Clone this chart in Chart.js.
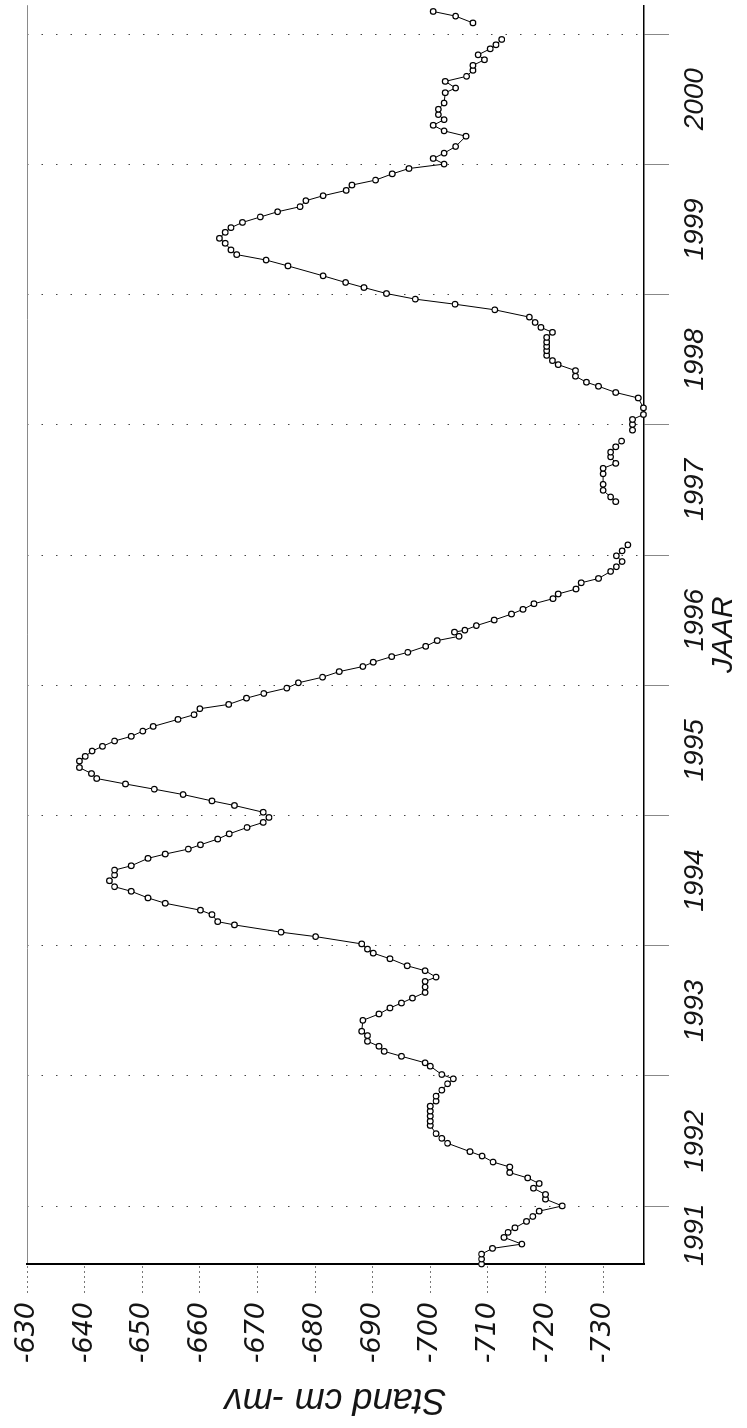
<!DOCTYPE html>
<html>
<head>
<meta charset="utf-8">
<title>Grondwaterstand</title>
<script src="https://cdn.jsdelivr.net/npm/chart.js@4.4.1/dist/chart.umd.min.js"></script>
<style>
  html, body { margin: 0; padding: 0; background: #fff; overflow: hidden; }
  /* chart is laid out landscape and turned a quarter turn onto the portrait page */
  #wrap {
    position: absolute; left: 0; top: 0;
    width: 1428px; height: 747px;
    transform-origin: 0 0;
    transform: translate(0, 1428px) rotate(-90deg);
  }
</style>
</head>
<body>
<div id="wrap"><canvas id="grondwater" width="1428" height="747"></canvas></div>
<script>
// meetmomenten (decimal year); a null level breaks the line
const jaar = [
  1991.556, 1991.594, 1991.632, 1991.676, 1991.709, 1991.760, 1991.799, 1991.834, 1991.883, 1991.921,
  1991.962, 1992.002, 1992.054, 1992.090, 1992.138, 1992.174, 1992.217, 1992.258, 1992.301, 1992.339,
  1992.385, 1992.419, 1992.483, 1992.521, 1992.557, 1992.620, 1992.653, 1992.692, 1992.730, 1992.768,
  1992.807, 1992.845, 1992.891, 1992.940, 1992.978, 1993.011, 1993.075, 1993.101, 1993.151, 1993.189,
  1993.228, 1993.266, 1993.310, 1993.343, 1993.427, 1993.476, 1993.522, 1993.560, 1993.598, 1993.641,
  1993.683, 1993.726, 1993.759, 1993.808, 1993.846, 1993.900, 1993.943, 1993.974, 1994.014, 1994.070,
  1994.104, 1994.160, 1994.185, 1994.239, 1994.273, 1994.326, 1994.367, 1994.418, 1994.453, 1994.499,
  1994.543, 1994.581, 1994.614, 1994.671, 1994.704, 1994.742, 1994.775, 1994.819, 1994.859, 1994.908,
  1994.947, 1994.985, 1995.025, 1995.077, 1995.112, 1995.161, 1995.202, 1995.242, 1995.284, 1995.322,
  1995.368, 1995.418, 1995.454, 1995.495, 1995.531, 1995.572, 1995.608, 1995.648, 1995.684, 1995.738,
  1995.774, 1995.820, 1995.853, 1995.901, 1995.937, 1995.978, 1996.019, 1996.062, 1996.105, 1996.144,
  1996.177, 1996.220, 1996.253, 1996.299, 1996.343, 1996.376, 1996.408, 1996.423, 1996.458, 1996.501,
  1996.547, 1996.583, 1996.626, 1996.665, 1996.701, 1996.739, 1996.787, 1996.820, 1996.874, 1996.910,
  1996.950, 1996.994, 1997.032, 1997.078, 1997.250,
  1997.410, 1997.446, 1997.497, 1997.543, 1997.624, 1997.666, 1997.704, 1997.754, 1997.790, 1997.831,
  1997.875, 1997.917,
  1997.959, 1998.003, 1998.041, 1998.079, 1998.130, 1998.206, 1998.248, 1998.296, 1998.327, 1998.373,
  1998.416, 1998.462, 1998.493, 1998.533, 1998.569, 1998.602, 1998.635, 1998.671, 1998.710, 1998.748,
  1998.786, 1998.827, 1998.883, 1998.926, 1998.965, 1999.008, 1999.054, 1999.093, 1999.144, 1999.220,
  1999.265, 1999.307, 1999.343, 1999.394, 1999.432, 1999.478, 1999.514, 1999.554, 1999.596, 1999.636,
  1999.675, 1999.721, 1999.759, 1999.800, 1999.841, 1999.879, 1999.927, 1999.968, 2000.002, 2000.045,
  2000.086, 2000.137, 2000.216, 2000.257, 2000.300, 2000.343, 2000.382, 2000.423, 2000.471, 2000.550,
  2000.586, 2000.637, 2000.676, 2000.722, 2000.760, 2000.803, 2000.841, 2000.887, 2000.918, 2000.959,
  2001.020,
  2001.086, 2001.138, 2001.174
];

// grondwaterstand in cm beneden maaiveld
const stand = [
  -708.9, -708.9, -708.9, -710.8, -715.9, -712.8, -713.5, -714.7, -716.7, -717.8,
  -718.9, -722.9, -720.0, -720.0, -717.9, -718.9, -716.9, -713.8, -713.8, -710.9,
  -709.0, -706.9, -703.0, -702.0, -701.0, -700.0, -700.0, -700.0, -700.0, -700.0,
  -701.0, -701.0, -702.0, -703.0, -704.0, -702.0, -700.0, -699.1, -695.0, -692.0,
  -691.1, -689.1, -689.1, -688.1, -688.3, -691.1, -693.0, -695.0, -696.9, -699.1,
  -699.1, -699.1, -701.0, -699.1, -696.0, -693.0, -690.1, -689.1, -688.1, -680.1,
  -674.1, -666.0, -663.1, -662.1, -660.1, -654.0, -651.0, -648.1, -645.2, -644.3,
  -645.2, -645.2, -648.1, -651.0, -654.0, -658.0, -660.1, -663.1, -665.1, -668.2,
  -671.0, -672.0, -671.0, -666.0, -662.1, -657.1, -652.1, -647.1, -642.1, -641.2,
  -639.1, -639.1, -640.1, -641.3, -643.1, -645.2, -648.1, -650.1, -651.9, -656.2,
  -659.0, -660.0, -665.0, -668.1, -671.1, -675.1, -677.1, -681.3, -684.2, -688.3,
  -690.1, -693.3, -696.1, -699.2, -701.2, -705.0, -704.2, -706.0, -708.0, -711.1,
  -714.1, -716.1, -718.0, -721.3, -722.2, -725.3, -726.2, -729.2, -731.3, -732.3,
  -733.3, -732.3, -733.3, -734.3, null,
  -732.2, -731.3, -730.0, -730.0, -730.0, -730.0, -732.2, -731.3, -731.3, -732.2,
  -733.2, null,
  -735.1, -735.1, -735.1, -737.0, -737.0, -736.1, -732.2, -729.2, -727.1, -725.2,
  -725.2, -722.2, -721.2, -720.2, -720.2, -720.2, -720.2, -720.2, -721.2, -719.2,
  -718.2, -717.2, -711.2, -704.3, -697.4, -692.4, -688.5, -685.3, -681.4, -675.3,
  -671.5, -666.4, -665.4, -664.4, -663.4, -664.4, -665.4, -667.4, -670.5, -673.5,
  -677.4, -678.4, -681.4, -685.4, -686.4, -690.5, -693.4, -696.3, -702.4, -700.5,
  -702.4, -704.4, -706.2, -702.4, -700.5, -702.4, -701.4, -701.4, -702.4, -702.6,
  -704.4, -702.6, -706.3, -707.4, -707.4, -709.4, -708.3, -710.4, -711.4, -712.4,
  null,
  -707.4, -704.4, -700.5
];

// year boundaries carry the dotted grid; labels sit in the middle of each year
const jaarGrenzen = [1992, 1993, 1994, 1995, 1996, 1997, 1998, 1999, 2000, 2001];
const jaarLabels = ['1991', '1992', '1993', '1994', '1995', '1996', '1997', '1998', '1999', '2000'];
const jaarLabelPos = [1991.78, 1992.5, 1993.5, 1994.5, 1995.5, 1996.5, 1997.5, 1998.5, 1999.5, 2000.5];
const standTicks = [-630, -640, -650, -660, -670, -680, -690, -700, -710, -720, -730];

const X_MIN = 1991.556;
const X_MAX = 2001.222;
const Y_MIN = -737.1;
const Y_MAX = -630;

const tekst = '#151515';
const punten = jaar.map((x, i) => ({ x: x, y: stand[i] }));

const ctx = document.getElementById('grondwater').getContext('2d');
new Chart(ctx, {
    type: 'line',
    data: {
        datasets: [{
            data: punten,
            borderColor: '#000',
            borderWidth: 1,
            tension: 0,
            spanGaps: false,
            pointRadius: 2.8,
            pointBorderWidth: 1.2,
            pointBorderColor: '#000',
            pointBackgroundColor: '#fff',
            clip: false
        }]
    },
    options: {
        responsive: false,
        animation: false,
        events: [],
        layout: {
            padding: { top: 27, right: 3, left: 0, bottom: 0 }
        },
        plugins: {
            legend: { display: false },
            tooltip: { enabled: false }
        },
        scales: {
            // grid + tick marks at the year boundaries
            x: {
                type: 'linear',
                position: 'bottom',
                weight: 0,
                min: X_MIN,
                max: X_MAX,
                afterBuildTicks: scale => {
                    scale.ticks = jaarGrenzen.map(v => ({ value: v }));
                },
                afterFit: scale => { scale.height = 25; },
                ticks: { display: false },
                grid: {
                    color: '#444',
                    lineWidth: 1,
                    drawTicks: true,
                    tickLength: 25,
                    tickColor: '#888',
                    tickWidth: 1
                },
                border: { display: true, color: '#000', width: 1.5, dash: [1.5, 13] }
            },
            // year names, centred on each year
            jaarAs: {
                type: 'linear',
                position: 'bottom',
                weight: 1,
                min: X_MIN,
                max: X_MAX,
                afterBuildTicks: scale => {
                    scale.ticks = jaarLabelPos.map(v => ({ value: v }));
                },
                afterFit: scale => { scale.height = 78; },
                grid: { display: false, drawTicks: false },
                border: { display: false },
                ticks: {
                    color: tekst,
                    padding: 9,
                    maxRotation: 0,
                    minRotation: 0,
                    autoSkip: false,
                    font: { family: "'Liberation Sans Narrow', 'Liberation Sans', Arial, sans-serif", style: 'italic', size: 28 },
                    callback: (value, index) => jaarLabels[index]
                },
                title: {
                    display: true,
                    text: 'JAAR',
                    color: tekst,
                    font: { family: "'Liberation Sans', Arial, sans-serif", style: 'italic', size: 30 },
                    padding: { top: 0, bottom: 5 }
                }
            },
            y: {
                type: 'linear',
                position: 'left',
                min: Y_MIN,
                max: Y_MAX,
                afterBuildTicks: scale => {
                    scale.ticks = standTicks.map(v => ({ value: v }));
                },
                afterFit: scale => { scale.width = 164; },
                grid: {
                    color: c => (c.tick && c.tick.value === -630) ? '#8a8a8a' : 'rgba(0,0,0,0)',
                    lineWidth: 1,
                    tickLength: 29,
                    tickColor: '#777',
                    tickWidth: 1,
                    tickBorderDash: [2, 3]
                },
                border: { display: true, color: '#000', width: 2 },
                ticks: {
                    color: tekst,
                    padding: 9,
                    font: { family: "'DejaVu Sans', Verdana, sans-serif", style: 'italic', size: 27 }
                },
                title: {
                    display: true,
                    text: 'Stand cm -mv',
                    color: tekst,
                    font: { family: "'Liberation Sans Narrow', 'Liberation Sans', Arial, sans-serif", style: 'italic', size: 36 },
                    padding: { top: 7, bottom: 0 }
                }
            }
        }
    }
});
</script>
</body>
</html>
